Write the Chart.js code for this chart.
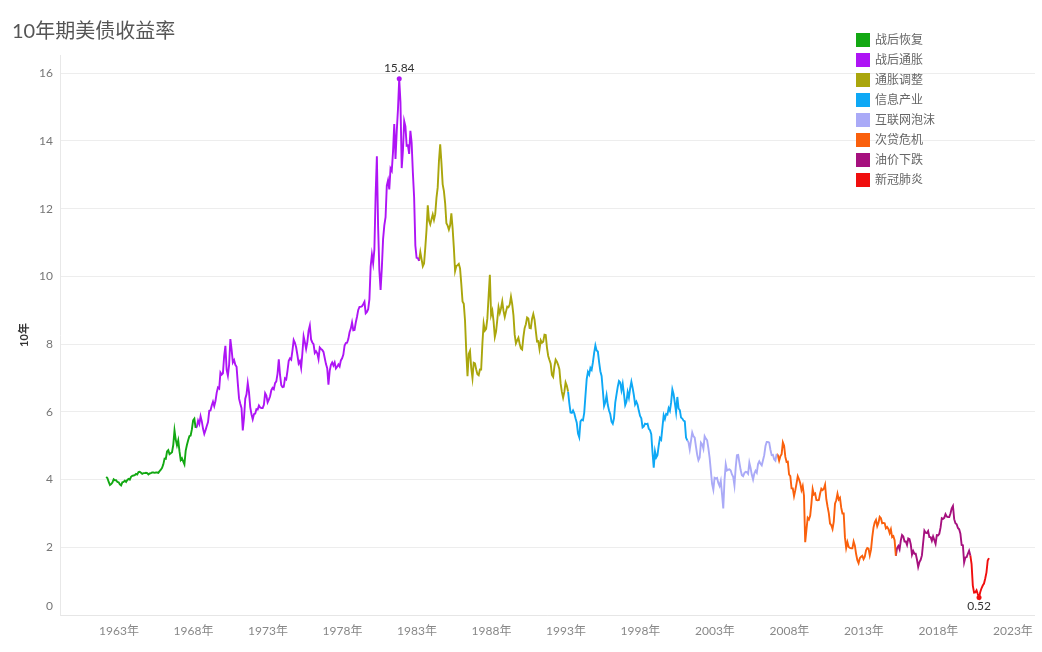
<!DOCTYPE html>
<html>
<head>
<meta charset="utf-8">
<script src="https://cdn.jsdelivr.net/npm/chart.js@4.4.1/dist/chart.umd.min.js"></script>
<style>
  body { margin: 0; background: #fff; }
  #wrap { position: relative; width: 1042px; height: 652px; font-family: Lato, "Noto Sans CJK SC", sans-serif; }
  #title { position: absolute; left: 12px; top: 15px; font-size: 20px; color: #555; }
  #legend { position: absolute; left: 856px; top: 33px; font-size: 12px; color: #666; }
  #legend div { height: 20px; display: flex; align-items: flex-start; }
  #legend span.box { width: 14px; height: 14px; margin-right: 5px; }
  #legend span.txt { line-height: 14px; }
</style>
</head>
<body>
<div id="wrap">
  <canvas id="chart" width="1042" height="652"></canvas>
  <div id="title">10年期美债收益率</div>
  <div id="legend"></div>
</div>
<script>
// monthly 10y yields, starting Jan 1962
const startYear = 1962;
const y1960s = [
  4.08, 4.04, 3.93, 3.84, 3.87, 3.91, 4.01, 3.98, 3.98, 3.93, 3.92, 3.86,
  3.83, 3.92, 3.93, 3.97, 3.93, 3.99, 4.02, 4.00, 4.08, 4.11, 4.12, 4.13,
  4.17, 4.15, 4.22, 4.23, 4.20, 4.17, 4.19, 4.19, 4.20, 4.19, 4.15, 4.18,
  4.19, 4.21, 4.21, 4.20, 4.21, 4.21, 4.20, 4.25, 4.29, 4.35, 4.45, 4.62,
  4.61, 4.83, 4.87, 4.75, 4.78, 4.81, 5.02, 5.45, 5.18, 5.01, 5.16, 4.84,
  4.58, 4.63, 4.54, 4.45, 4.85, 5.02, 5.16, 5.28, 5.30, 5.48, 5.75, 5.80,
  5.53, 5.56, 5.74, 5.64, 5.87, 5.72, 5.50, 5.35, 5.46, 5.58, 5.70, 6.03,
  6.04, 6.19, 6.30, 6.17, 6.32, 6.57, 6.72, 6.69, 7.16, 7.10, 7.14, 7.65
];
const y1970s = [
  7.95, 7.24, 7.07, 7.39, 8.15, 7.84, 7.46, 7.53, 7.39, 7.33, 6.84, 6.39,
  6.24, 6.11, 5.45, 5.83, 6.39, 6.52, 6.85, 6.58, 6.14, 5.93, 5.78, 5.93,
  5.95, 6.08, 6.07, 6.19, 6.13, 6.11, 6.11, 6.21, 6.55, 6.48, 6.28, 6.36,
  6.46, 6.64, 6.71, 6.67, 6.85, 6.90, 7.13, 7.55, 7.09, 6.79, 6.73, 6.74,
  6.99, 6.96, 7.21, 7.51, 7.58, 7.54, 7.81, 8.12, 8.04, 7.90, 7.68, 7.43,
  7.50, 7.30, 7.73, 8.23, 8.06, 7.86, 8.06, 8.40, 8.55, 8.14, 8.05, 8.00,
  7.74, 7.79, 7.73, 7.56, 7.90, 7.86, 7.83, 7.77, 7.59, 7.41, 7.29, 6.80,
  7.21, 7.39, 7.46, 7.37, 7.46, 7.28, 7.33, 7.40, 7.34, 7.52, 7.58, 7.69,
  7.96, 8.03, 8.04, 8.15, 8.35, 8.46, 8.64, 8.41, 8.42, 8.64, 8.81, 9.01,
  9.10, 9.10, 9.12, 9.18, 9.25, 8.91, 8.95, 9.03, 9.33, 10.30, 10.65, 10.39
];
const y1980s = [
  10.80, 12.41, 13.55, 11.47, 10.18, 9.60, 10.25, 11.10, 11.51, 11.75, 12.68, 12.84,
  12.57, 13.19, 13.12, 13.68, 14.50, 13.47, 14.28, 14.94, 15.84, 15.15, 13.20, 13.72,
  14.59, 14.43, 13.86, 13.87, 13.62, 14.30, 13.95, 13.06, 12.34, 10.91, 10.55, 10.54,
  10.46, 10.72, 10.51, 10.30, 10.38, 10.85, 11.38, 12.10, 11.65, 11.54, 11.69, 11.83,
  11.67, 11.84, 12.32, 12.63, 13.41, 13.90, 13.36, 12.72, 12.52, 12.16, 11.57, 11.50,
  11.38, 11.51, 11.86, 11.43, 10.85, 10.16, 10.31, 10.33, 10.37, 10.24, 9.78, 9.26,
  9.19, 8.70, 7.78, 7.05, 7.71, 7.80, 7.30, 7.00, 7.45, 7.43, 7.25, 7.11,
  7.08, 7.25, 7.25, 8.02, 8.61, 8.40, 8.45, 8.76, 9.42, 10.05, 8.86, 8.99,
  8.67, 8.21, 8.37, 8.72, 9.09, 8.92, 9.06, 9.26, 8.98, 8.80, 8.96, 9.11,
  9.09, 9.17, 9.40, 9.18, 8.86, 8.28, 8.02, 8.11, 8.19, 8.01, 7.87, 7.84
];
const y1990s = [
  8.21, 8.47, 8.59, 8.79, 8.76, 8.48, 8.47, 8.75, 8.89, 8.72, 8.39, 8.08,
  8.09, 7.85, 8.11, 8.04, 8.07, 8.28, 8.27, 7.90, 7.65, 7.53, 7.42, 7.09,
  7.03, 7.34, 7.54, 7.48, 7.39, 7.26, 6.84, 6.59, 6.42, 6.59, 6.87, 6.77,
  6.60, 6.26, 5.98, 5.97, 6.04, 5.96, 5.81, 5.68, 5.36, 5.25, 5.72, 5.77,
  5.75, 5.97, 6.48, 6.97, 7.18, 7.10, 7.30, 7.24, 7.46, 7.74, 7.96, 7.81,
  7.78, 7.47, 7.20, 7.06, 6.63, 6.17, 6.28, 6.49, 6.20, 6.04, 5.93, 5.71,
  5.65, 5.81, 6.27, 6.51, 6.74, 6.91, 6.87, 6.64, 6.83, 6.53, 6.20, 6.30,
  6.58, 6.42, 6.69, 6.89, 6.71, 6.49, 6.22, 6.30, 6.21, 6.03, 5.88, 5.81,
  5.54, 5.57, 5.65, 5.64, 5.65, 5.50, 5.46, 5.34, 4.81, 4.35, 4.83, 4.65,
  4.72, 5.00, 5.23, 5.18, 5.54, 5.90, 5.79, 5.94, 5.92, 6.11, 6.03, 6.28
];
const y2000s = [
  6.66, 6.52, 6.26, 5.99, 6.44, 6.10, 6.05, 5.83, 5.80, 5.74, 5.72, 5.24,
  5.16, 5.10, 4.89, 5.14, 5.39, 5.28, 5.24, 4.97, 4.73, 4.57, 4.65, 5.09,
  5.04, 4.91, 5.28, 5.21, 5.16, 4.93, 4.65, 4.26, 3.87, 3.70, 4.05, 4.03,
  4.05, 3.90, 3.81, 3.96, 3.57, 3.15, 3.98, 4.45, 4.27, 4.29, 4.30, 4.27,
  4.15, 4.08, 3.83, 4.35, 4.72, 4.73, 4.50, 4.28, 4.13, 4.10, 4.19, 4.23,
  4.22, 4.17, 4.50, 4.34, 4.14, 4.00, 4.18, 4.26, 4.20, 4.46, 4.54, 4.47,
  4.42, 4.57, 4.72, 4.99, 5.11, 5.11, 5.09, 4.88, 4.72, 4.73, 4.60, 4.56,
  4.76, 4.72, 4.56, 4.69, 4.75, 5.10, 5.00, 4.67, 4.52, 4.53, 4.15, 4.10,
  3.74, 3.74, 3.51, 3.68, 3.88, 4.10, 4.01, 3.89, 3.69, 3.81, 3.53, 2.15,
  2.52, 2.87, 2.82, 2.93, 3.29, 3.72, 3.56, 3.59, 3.40, 3.39, 3.40, 3.59
];
const y2010s = [
  3.73, 3.69, 3.73, 3.85, 3.42, 3.20, 3.01, 2.70, 2.65, 2.54, 2.76, 3.29,
  3.39, 3.58, 3.41, 3.46, 3.17, 3.00, 3.00, 2.30, 1.98, 2.15, 2.01, 1.98,
  1.97, 1.97, 2.17, 2.05, 1.80, 1.62, 1.53, 1.68, 1.72, 1.75, 1.65, 1.72,
  1.91, 1.98, 1.96, 1.76, 1.93, 2.30, 2.58, 2.74, 2.81, 2.62, 2.72, 2.90,
  2.86, 2.71, 2.72, 2.71, 2.56, 2.60, 2.54, 2.42, 2.53, 2.30, 2.33, 2.21,
  1.75, 1.98, 2.04, 1.94, 2.20, 2.36, 2.32, 2.17, 2.17, 2.07, 2.26, 2.24,
  2.09, 1.78, 1.89, 1.81, 1.81, 1.64, 1.42, 1.56, 1.63, 1.76, 2.14, 2.49,
  2.43, 2.42, 2.48, 2.30, 2.30, 2.19, 2.32, 2.21, 2.10, 2.36, 2.35, 2.40,
  2.58, 2.86, 2.84, 2.87, 2.98, 2.91, 2.89, 2.89, 3.00, 3.15, 3.22, 2.83,
  2.71, 2.68, 2.57, 2.53, 2.40, 2.07, 2.06, 1.55, 1.70, 1.71, 1.81, 1.90
];
const y2020s = [
  1.76, 1.50, 0.87, 0.66, 0.67, 0.73, 0.62, 0.52, 0.68, 0.79, 0.87, 0.93,
  1.08, 1.26, 1.61, 1.68
];

const eraNames = ['战后恢复', '战后通胀', '通胀调整', '信息产业', '互联网泡沫', '次贷危机', '油价下跌', '新冠肺炎'];
const eraStarts = ['1962-01', '1968-01', '1983-01', '1993-01', '2001-01', '2007-01', '2015-01', '2020-01'];
const eraColors = ['#12a812', '#ae14f5', '#aaa60c', '#0ea8f5', '#aaaaf7', '#fa600c', '#a6107e', '#f00e0e'];

const yTicks = [0, 2, 4, 6, 8, 10, 12, 14, 16];
const xTickYears = [1963, 1968, 1973, 1978, 1983, 1988, 1993, 1998, 2003, 2008, 2013, 2018, 2023];
const xTickLabels = xTickYears.map(y => y + '年');

const yields = [].concat(y1960s, y1970s, y1980s, y1990s, y2000s, y2010s, y2020s);
const monthX = i => startYear + (i + 0.5) / 12;
const monthIndex = s => (parseInt(s.slice(0, 4)) - startYear) * 12 + parseInt(s.slice(5)) - 1;

const datasets = eraNames.map((name, k) => {
  const from = monthIndex(eraStarts[k]);
  const to = k < eraNames.length - 1 ? monthIndex(eraStarts[k + 1]) : yields.length - 1;
  const pts = [];
  for (let i = from; i <= to; i++) pts.push({ x: monthX(i), y: yields[i] });
  return {
    label: name,
    data: pts,
    borderColor: eraColors[k],
    backgroundColor: eraColors[k],
    borderWidth: 1.9,
    pointRadius: 0,
    tension: 0
  };
});

// html legend
const legendEl = document.getElementById('legend');
eraNames.forEach((name, k) => {
  const row = document.createElement('div');
  row.innerHTML = '<span class="box" style="background:' + eraColors[k] + '"></span><span class="txt">' + name + '</span>';
  legendEl.appendChild(row);
});

// labels for max / min, and the raised "0" tick
const markers = {
  id: 'markers',
  afterDatasetsDraw(chart) {
    const { ctx, scales } = chart;
    let hi = null, lo = null;
    chart.data.datasets.forEach(ds => ds.data.forEach(p => {
      if (!hi || p.y > hi.p.y) hi = { p, c: ds.borderColor };
      if (!lo || p.y < lo.p.y) lo = { p, c: ds.borderColor };
    }));
    ctx.save();
    ctx.font = '12px Lato, "Noto Sans CJK SC", sans-serif';
    ctx.textAlign = 'center';
    [[hi, -11], [lo, 9]].forEach(([m, dy]) => {
      const x = scales.x.getPixelForValue(m.p.x);
      const y = scales.y.getPixelForValue(m.p.y);
      ctx.fillStyle = m.c;
      ctx.beginPath();
      ctx.arc(x, y, 2.5, 0, Math.PI * 2);
      ctx.fill();
      ctx.fillStyle = '#333';
      ctx.textBaseline = 'middle';
      ctx.fillText(m.p.y.toFixed(2), x, y + dy);
    });
    ctx.fillStyle = '#777';
    ctx.textAlign = 'right';
    ctx.fillText('0', scales.y.right - 7, scales.y.getPixelForValue(0) - 9);
    ctx.restore();
  }
};

new Chart(document.getElementById('chart'), {
  type: 'line',
  data: { datasets },
  plugins: [markers],
  options: {
    responsive: false,
    animation: false,
    parsing: false,
    layout: { padding: { top: 55, right: 7, left: 12, bottom: 0 } },
    plugins: { legend: { display: false }, tooltip: { enabled: false } },
    scales: {
      x: {
        type: 'linear',
        min: 1958.94,
        max: 2024.38,
        afterBuildTicks: s => { s.ticks = xTickYears.map(y => ({ value: y - 0.1 })); },
        afterFit: s => { s.height = 37; },
        grid: { display: false, drawTicks: false },
        border: { color: '#e6e6e6' },
        ticks: {
          autoSkip: false,
          maxRotation: 0,
          padding: 9,
          color: '#888',
          font: { size: 12, family: 'Lato, "Noto Sans CJK SC", sans-serif' },
          callback: v => xTickLabels[xTickYears.indexOf(Math.round(v + 0.1))]
        }
      },
      y: {
        min: 0,
        max: 16.54,
        afterBuildTicks: s => { s.ticks = yTicks.map(v => ({ value: v })); },
        afterFit: s => { s.width = 48; },
        grid: { color: '#ededed', drawTicks: false },
        border: { color: '#e8e8e8' },
        title: {
          display: true,
          text: '10年',
          color: '#333',
          padding: { top: 6, bottom: 0 },
          font: { size: 11, weight: 'bold', family: 'Lato, "Noto Sans CJK SC", sans-serif' }
        },
        ticks: {
          padding: 7,
          color: '#777',
          font: { size: 12, family: 'Lato, "Noto Sans CJK SC", sans-serif' },
          callback: v => v === 0 ? '' : String(v)
        }
      }
    }
  }
});
</script>
</body>
</html>
